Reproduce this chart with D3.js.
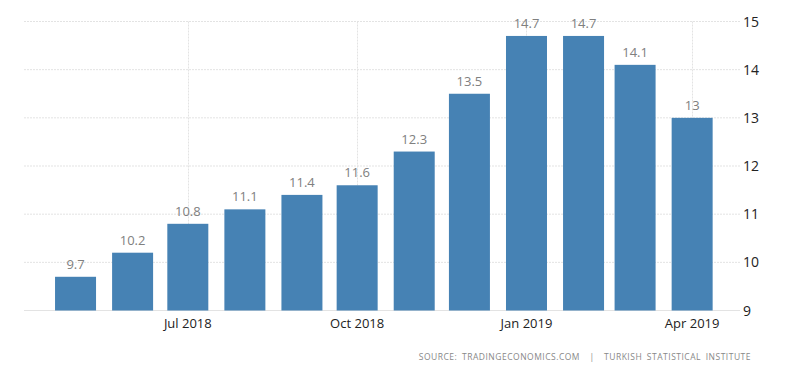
<!DOCTYPE html>
<html lang="en">
<head>
    <meta charset="UTF-8">
    <title>Chart</title>
    <script src="https://cdn.jsdelivr.net/npm/d3@7"></script>
    <style>
        body { margin: 0; background: #fff; }
        text { font-family: "Open Sans", "Noto Sans", sans-serif; }
    </style>
</head>
<body>
    <div class="chartBox"></div>
    <script>
        // data
        const months = ["2018-05-01", "2018-06-01", "2018-07-01", "2018-08-01", "2018-09-01", "2018-10-01",
            "2018-11-01", "2018-12-01", "2019-01-01", "2019-02-01", "2019-03-01", "2019-04-01"];
        const values = [9.7, 10.2, 10.8, 11.1, 11.4, 11.6, 12.3, 13.5, 14.7, 14.7, 14.1, 13];
        const xTicks = ["2018-07-01", "2018-10-01", "2019-01-01", "2019-04-01"];
        const yTicks = [9, 10, 11, 12, 13, 14, 15];

        const width = 800;
        const height = 373;
        const parse = d3.utcParse("%Y-%m-%d");

        const svg = d3.select(".chartBox").append("svg")
            .attr("width", width).attr("height", height);

        // 时间轴：按天数排布，所以柱子间距不完全相等
        const x = d3.scaleUtc()
            .domain([parse("2018-04-03"), parse("2019-04-27")])
            .range([24, 740]);
        const y = d3.scaleLinear().domain([9, 15]).range([310.5, 21.5]);
        const barW = 41;

        // grid
        svg.append("g").selectAll("line")
            .data(yTicks)
            .join("line")
            .attr("x1", 24).attr("x2", 740)
            .attr("y1", d => y(d)).attr("y2", d => y(d))
            .attr("stroke", "#e3e3e3").attr("stroke-width", 1)
            .attr("stroke-dasharray", d => d === 9 ? null : "2,1");

        svg.append("g").selectAll("line")
            .data(xTicks)
            .join("line")
            .attr("x1", d => Math.round(x(parse(d))) + 0.5).attr("x2", d => Math.round(x(parse(d))) + 0.5)
            .attr("y1", y(15)).attr("y2", y(9))
            .attr("stroke", "#e3e3e3").attr("stroke-width", 1)
            .attr("stroke-dasharray", "2,1");

        // bars
        svg.append("g").selectAll("rect")
            .data(values)
            .join("rect")
            .attr("x", (d, i) => x(parse(months[i])) - barW / 2)
            .attr("width", barW)
            .attr("y", d => y(d))
            .attr("height", d => y(9) - y(d))
            .attr("fill", "#4682b4");

        // 柱子上方数值
        svg.append("g").selectAll("text")
            .data(values)
            .join("text")
            .attr("x", (d, i) => x(parse(months[i])))
            .attr("y", d => y(d) - 8)
            .attr("text-anchor", "middle")
            .style("font-size", "13px")
            .style("fill", "#808080")
            .text(d => d);

        // y axis labels (right)
        svg.append("g").selectAll("text")
            .data(yTicks)
            .join("text")
            .attr("x", 743)
            .attr("y", d => y(d) + 5)
            .style("font-size", "14px")
            .style("fill", "#222")
            .text(d => d);

        // x axis labels
        const fmt = d3.utcFormat("%b %Y");
        svg.append("g").selectAll("text")
            .data(xTicks)
            .join("text")
            .attr("x", d => x(parse(d)))
            .attr("y", 328)
            .attr("text-anchor", "middle")
            .style("font-size", "13px")
            .style("fill", "#222")
            .text(d => fmt(parse(d)));

        // source
        svg.append("text")
            .attr("x", 751)
            .attr("y", 360)
            .attr("text-anchor", "end")
            .attr("xml:space", "preserve")
            .style("white-space", "pre")
            .style("font-size", "8.5px")
            .style("letter-spacing", "0.5px")
            .style("word-spacing", "2px")
            .style("fill", "#888")
            .text("SOURCE: TRADINGECONOMICS.COM  |  TURKISH STATISTICAL INSTITUTE");
    </script>
</body>
</html>
